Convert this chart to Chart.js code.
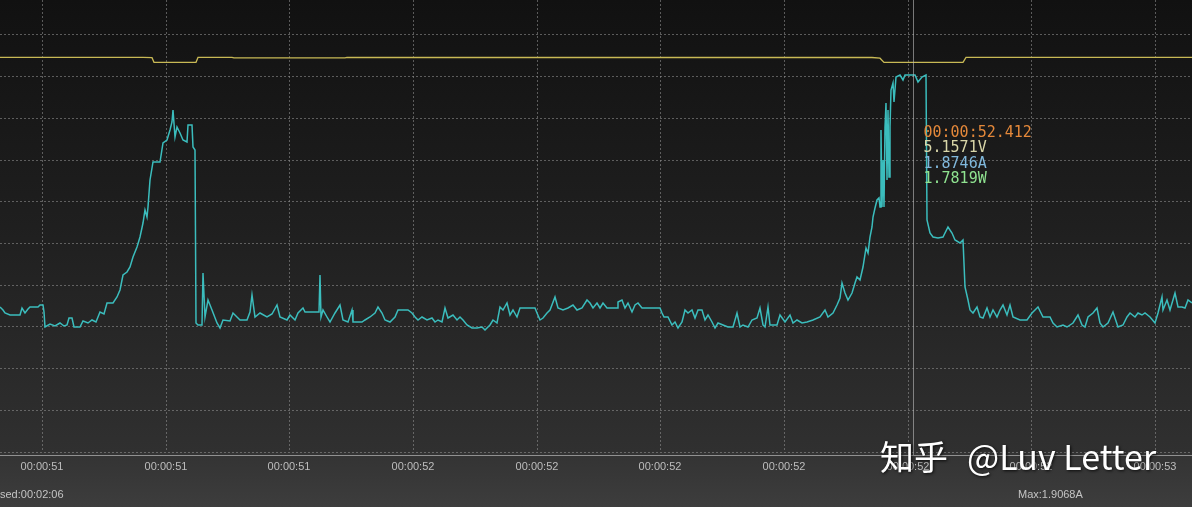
<!DOCTYPE html>
<html>
<head>
<meta charset="utf-8">
<script src="https://cdn.jsdelivr.net/npm/chart.js@4.4.1/dist/chart.umd.min.js"></script>
<style>
  html, body { margin: 0; padding: 0; background: #3a3a3a; overflow: hidden; }
  #wrap { width: 1192px; height: 507px; }
  canvas { display: block; }
</style>
</head>
<body>
<div id="wrap"><canvas id="c" width="1192" height="507"></canvas></div>
<script>
// ---------- data ----------
// time in ms after 00:00:51.499
const baseTimeMs = 51499;
const timeMs = [
  0,3,5,10,20,22,25,28,30,38,40,43,44,45,50,55,60,64,67,69,72,74,80,83,88,92,96,100,104,107,
  113,117,120,123,127,130,133,137,140,143,145,147,148,150,153,160,163,167,170,172,173,175,177,180,183,
  187,188,192,193,195,196,198,202,203,205,208,212,217,220,223,230,233,240,247,250,252,255,260,267,272,
  277,280,287,
  290,295,298,303,305,315,319,320,321,323,327,330,335,340,343,348,352,353,357,362,365,370,375,378,382,
  385,390,395,398,408,412,415,418,422,427,432,435,438,442,445,448,453,457,460,463,467,472,477,482,485,
  490,493,497,500,503,507,510,513,517,520,535,537,540,543,547,550,555,558,563,568,573,577,582,587,
  590,593,597,600,603,607,617,618,622,625,628,632,635,638,642,660,662,664,668,672,675,678,682,685,688,
  692,695,698,702,705,708,712,715,718,723,728,733,737,740,743,748,752,757,760,763,765,768,770,777,780,
  785,790,793,797,802,807,813,820,825,828,833,837,840,842,845,848,852,855,857,860,863,866,868,870,872,
  873,875,877,879,880,881,882,883,884,885,886,887,888,889,890,891,893,894,896,900,903,905,908,912,915,
  918,922,926,927,930,933,938,943,948,952,955,960,963,965,968,970,973,977,980,983,987,990,993,997,
  1000,1003,1007,1010,1013,1020,1027,1032,1038,1043,1050,1053,1057,1063,1067,1073,1078,1082,1085,1088,
  1093,1097,1100,1103,1108,1113,1118,1123,1127,1130,1135,1138,1142,1145,1150,1155,1158,1162,1163,1167,
  1170,1175,1178,1182,1185,1188,1192
];
const currentA = [
  0.725,0.710,0.695,0.685,0.685,0.720,0.695,0.715,0.725,0.725,0.735,0.735,0.700,0.625,0.640,0.630,0.645,0.630,0.635,0.670,0.670,0.625,0.625,0.655,0.645,0.660,0.650,0.700,0.690,0.745,
  0.745,0.775,0.810,0.885,0.900,0.925,0.975,1.025,1.075,1.145,1.210,1.175,1.225,1.360,1.450,1.450,1.545,1.560,1.610,1.650,1.710,1.575,1.625,1.595,1.560,
  1.550,1.635,1.635,1.525,1.510,0.645,0.635,0.635,0.895,0.675,0.760,0.710,0.645,0.620,0.660,0.655,0.695,0.660,0.660,0.700,0.785,0.675,0.695,0.675,0.690,
  0.735,0.675,0.660,
  0.685,0.660,0.695,0.720,0.700,0.700,0.700,0.885,0.675,0.710,0.675,0.650,0.695,0.735,0.660,0.650,0.710,0.650,0.650,0.650,0.660,0.675,0.695,0.725,0.695,
  0.660,0.650,0.675,0.710,0.710,0.695,0.675,0.660,0.675,0.660,0.670,0.650,0.660,0.650,0.720,0.670,0.685,0.660,0.675,0.660,0.635,0.620,0.620,0.625,0.610,
  0.635,0.660,0.645,0.725,0.710,0.745,0.685,0.710,0.675,0.720,0.720,0.695,0.660,0.670,0.695,0.710,0.775,0.720,0.710,0.720,0.735,0.710,0.720,0.760,
  0.745,0.720,0.745,0.720,0.745,0.720,0.720,0.750,0.760,0.720,0.745,0.700,0.735,0.745,0.720,0.720,0.695,0.675,0.675,0.635,0.650,0.620,0.650,0.710,0.695,
  0.710,0.670,0.710,0.710,0.660,0.685,0.650,0.620,0.645,0.635,0.625,0.625,0.695,0.625,0.635,0.625,0.660,0.670,0.720,0.635,0.625,0.725,0.635,0.635,0.685,
  0.650,0.685,0.645,0.660,0.645,0.650,0.660,0.675,0.710,0.675,0.695,0.735,0.770,0.845,0.795,0.760,0.795,0.845,0.875,0.860,0.925,1.020,0.995,1.075,1.125,
  1.175,1.220,1.260,1.270,1.225,1.610,1.225,1.460,1.225,1.625,1.745,1.360,1.710,1.375,1.625,1.810,1.845,1.750,1.875,1.885,1.860,1.885,1.885,1.885,1.885,
  1.850,1.875,1.885,1.160,1.095,1.075,1.070,1.075,1.125,1.095,1.060,1.045,1.060,0.825,0.760,0.710,0.695,0.725,0.675,0.670,0.720,0.675,0.710,0.675,
  0.710,0.735,0.685,0.735,0.675,0.660,0.660,0.695,0.725,0.675,0.675,0.645,0.625,0.635,0.625,0.645,0.685,0.635,0.625,0.675,
  0.695,0.720,0.645,0.625,0.645,0.700,0.625,0.635,0.675,0.695,0.675,0.695,0.685,0.695,0.675,0.645,0.695,0.775,0.710,0.760,
  0.710,0.795,0.725,0.725,0.720,0.760,0.745
];
const voltageTimeMs = [0,143,152,154,196,198,232,234,345,347,872,880,884,963,966,1192];
const voltageV = [5.1696,5.1696,5.1687,5.1571,5.1571,5.1694,5.1694,5.1684,5.1684,5.1694,5.1691,5.1674,5.1568,5.1568,5.1694,5.1694];

const tickTimeMs = [42,166,289,413,537,660,784,908,1031,1155];
const tickLabels = ["00:00:51","00:00:51","00:00:51","00:00:52","00:00:52","00:00:52","00:00:52","00:00:52","00:00:52","00:00:53"];
const gridStepA = 0.2085;
const gridCount = 10;

const cursorTimeMs = 52412;
const cursorLines = [
  { text: "00:00:52.412", color: "#e4883a" },
  { text: "5.1571V",      color: "#d9d6a8" },
  { text: "1.8746A",      color: "#80b8dc" },
  { text: "1.7819W",      color: "#8fe290" }
];
const statusLeft = "sed:00:02:06";
const statusMax = "Max:1.9068A";
const watermarkCn = "知乎";
const watermarkEn = "@Luv Letter";

// ---------- build ----------
const currentPoints = timeMs.map((t, i) => ({ x: t, y: currentA[i] }));
const voltagePoints = voltageTimeMs.map((t, i) => ({ x: t, y: voltageV[i] }));

const bgPlugin = {
  id: 'bg',
  beforeDraw(chart) {
    const { ctx, chartArea } = chart;
    ctx.save();
    const g = ctx.createLinearGradient(0, 0, 0, chartArea.bottom);
    g.addColorStop(0, '#111111');
    g.addColorStop(0.5, '#1f1f1f');
    g.addColorStop(1, '#303030');
    ctx.fillStyle = g;
    ctx.fillRect(0, 0, chart.width, chartArea.bottom);
    const g2 = ctx.createLinearGradient(0, chartArea.bottom, 0, chart.height);
    g2.addColorStop(0, '#333333');
    g2.addColorStop(1, '#3d3d3d');
    ctx.fillStyle = g2;
    ctx.fillRect(0, chartArea.bottom, chart.width, chart.height - chartArea.bottom);
    ctx.restore();
  }
};

const overlayPlugin = {
  id: 'overlay',
  afterDraw(chart) {
    const { ctx, chartArea, scales } = chart;
    ctx.save();
    // axis base line
    ctx.strokeStyle = 'rgba(175,175,175,0.75)';
    ctx.lineWidth = 1;
    ctx.beginPath();
    ctx.moveTo(0, chartArea.bottom + 3.5);
    ctx.lineTo(chart.width, chartArea.bottom + 3.5);
    ctx.stroke();

    // cursor
    const cx = Math.round(scales.x.getPixelForValue(cursorTimeMs - baseTimeMs)) + 0.5;
    ctx.strokeStyle = 'rgba(190,190,190,0.6)';
    ctx.beginPath();
    ctx.moveTo(cx, chartArea.top);
    ctx.lineTo(cx, chartArea.bottom + 3);
    ctx.stroke();

    ctx.font = '15px "DejaVu Sans Mono", monospace';
    ctx.textBaseline = 'middle';
    ctx.textAlign = 'left';
    const topY = scales.yA.getPixelForValue(gridStepA * 7.7) + 2;
    cursorLines.forEach((l, i) => {
      ctx.fillStyle = l.color;
      ctx.fillText(l.text, cx + 10, topY + i * 15.5);
    });

    // status bar
    ctx.font = '11px "Liberation Sans", Arial, sans-serif';
    ctx.fillStyle = '#c4c4c4';
    ctx.textBaseline = 'middle';
    ctx.fillText(statusLeft, 0, 495);
    ctx.fillText(statusMax, 1018, 495);

    // watermark
    ctx.font = '34px "Noto Sans CJK SC", "Noto Sans", sans-serif';
    ctx.textBaseline = 'alphabetic';
    ctx.shadowColor = 'rgba(0,0,0,0.8)';
    ctx.shadowBlur = 3;
    ctx.shadowOffsetX = 1;
    ctx.shadowOffsetY = 1;
    ctx.fillStyle = '#ffffff';
    ctx.fillText(watermarkCn, 880, 470);
    ctx.fillText(watermarkEn, 967, 470);
    ctx.restore();
  }
};

const gridColor = 'rgba(140,140,140,0.6)';

new Chart(document.getElementById('c'), {
  type: 'line',
  data: {
    datasets: [
      {
        label: 'Voltage',
        data: voltagePoints,
        yAxisID: 'yV',
        borderColor: '#c8b955',
        borderWidth: 1.3,
        pointRadius: 0,
        tension: 0
      },
      {
        label: 'Current',
        data: currentPoints,
        yAxisID: 'yA',
        borderColor: '#3bbdbd',
        borderWidth: 1.5,
        pointRadius: 0,
        tension: 0
      }
    ]
  },
  options: {
    responsive: false,
    animation: false,
    layout: { padding: 0 },
    plugins: { legend: { display: false }, tooltip: { enabled: false } },
    scales: {
      x: {
        type: 'linear',
        min: 0,
        max: 1192,
        afterBuildTicks: (axis) => { axis.ticks = tickTimeMs.map(v => ({ value: v })); },
        afterFit: (axis) => { axis.height = 55; },
        ticks: {
          autoSkip: false,
          maxRotation: 0,
          padding: 8,
          color: '#bdbdbd',
          font: { family: '"Liberation Sans", Arial, sans-serif', size: 11 },
          callback: (v, i) => tickLabels[i]
        },
        grid: { color: gridColor, drawTicks: false, lineWidth: 1 },
        border: { display: false, dash: [2, 2] }
      },
      yA: {
        position: 'left',
        min: 0,
        max: 2.26,
        afterBuildTicks: (axis) => {
          const t = [];
          for (let k = 0; k <= gridCount; k++) t.push({ value: k * gridStepA });
          axis.ticks = t;
        },
        afterFit: (axis) => { axis.width = 0; },
        ticks: { display: false },
        grid: { color: gridColor, drawTicks: false, lineWidth: 1 },
        border: { display: false, dash: [2, 2] }
      },
      yV: {
        display: false,
        min: 4.1829,
        max: 5.3129
      }
    }
  },
  plugins: [bgPlugin, overlayPlugin]
});
</script>
</body>
</html>
